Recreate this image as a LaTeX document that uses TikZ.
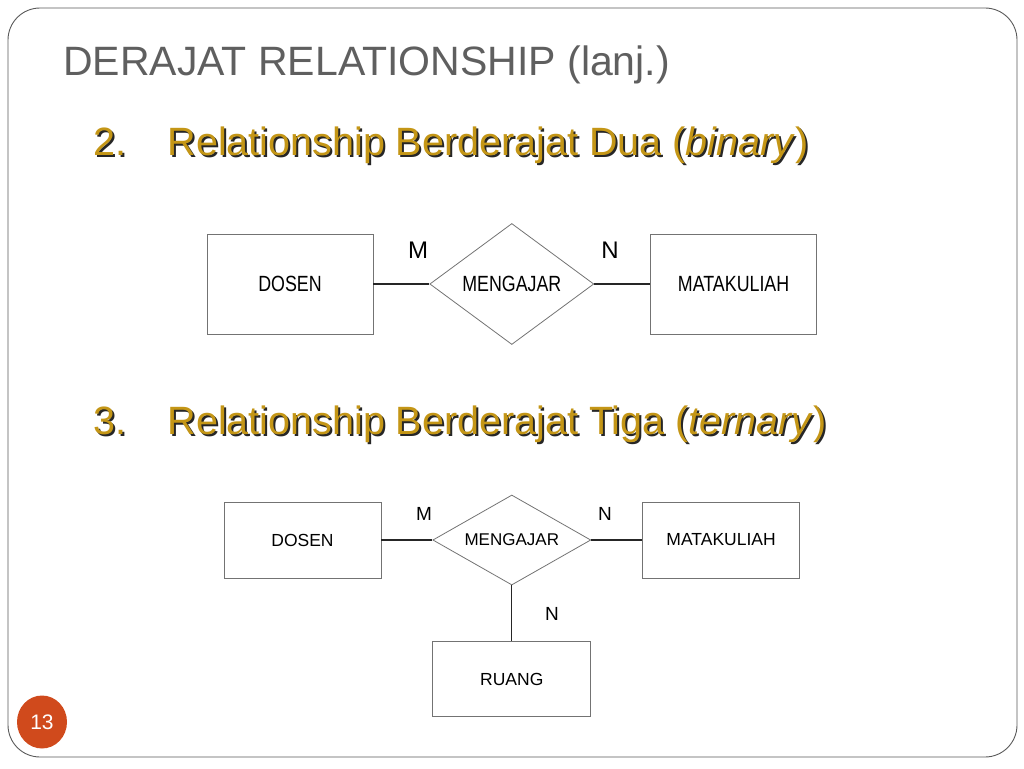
\documentclass[tikz,border=0pt]{standalone}
\usepackage{fontspec}
\setmainfont{Liberation Sans}
\newfontfamily\narrowfont[FakeStretch=0.81]{Liberation Sans}
\usetikzlibrary{positioning, shapes.geometric}
\usepackage{xcolor}
\definecolor{titlegray}{RGB}{95,95,95}
\definecolor{headgold}{RGB}{196,150,22}
\definecolor{pagered}{RGB}{208,74,28}

\begin{document}
\begin{tikzpicture}[x=1pt, y=-1pt,
frame/.style={draw=black!65, line width=0.9pt, rounded corners=32pt},
title/.style={anchor=base west, inner sep=0pt, text=titlegray, font=\fontsize{41}{45}\selectfont},
head/.style={anchor=base west, inner sep=0pt, text=headgold, font=\fontsize{39.5}{44}\selectfont},
headshadow/.style={head, text=black!85},
entity/.style={draw=black!55, 
rectangle, 
line width=0.8pt, 
minimum width=166pt, 
minimum height=100pt, 
font=\narrowfont\fontsize{22}{24}\selectfont},
relation/.style={draw=black!55, 
diamond, 
aspect=1.6, 
inner sep=0pt, 
line width=0.8pt, 
minimum width=164pt, 
minimum height=121pt, 
font=\narrowfont\fontsize{22}{24}\selectfont},
card/.style={font=\fontsize{24}{26}\selectfont, inner sep=0pt},
entitysmall/.style={entity, minimum width=157pt, minimum height=76pt, font=\fontsize{17.5}{19}\selectfont},
relationsmall/.style={relation, minimum width=158pt, minimum height=90pt, font=\fontsize{17}{19}\selectfont},
cardsmall/.style={card, font=\fontsize{19}{21}\selectfont},
link/.style={draw=black!85, line width=1.4pt},
linksmall/.style={draw=black!85, line width=1.1pt}
]
\useasboundingbox (0,0) rectangle (1024,768);

\draw[frame] (8,8) rectangle (1017,757);

\node[title] (title) at (63,75) {DERAJAT RELATIONSHIP (lanj.)};

% judul bagian
\node[headshadow] (headAshadow) at (95.5,157.5) {\hbox to 74pt{2.\hfil}Relationship Berderajat Dua (\textit{binary})};
\node[head] (headA) at (93.5,155.5) {\hbox to 74pt{2.\hfil}Relationship Berderajat Dua (\textit{binary})};
\node[headshadow] (headBshadow) at (95.5,436.5) {\hbox to 74pt{3.\hfil}Relationship Berderajat Tiga (\textit{ternary})};
\node[head] (headB) at (93.5,434.5) {\hbox to 74pt{3.\hfil}Relationship Berderajat Tiga (\textit{ternary})};

% binary
\node[entity] (dosenA) at (290,284) {DOSEN};
\node[relation, right=56pt of dosenA] (ajarA) {MENGAJAR};
\node[entity, right=56pt of ajarA] (matkulA) {MATAKULIAH};

\draw[link] (dosenA) -- (ajarA);
\draw[link] (ajarA) -- (matkulA);

\node[card] (mA) at (418,250) {M};
\node[card] (nA) at (610,250) {N};

% ternary
\node[entitysmall] (dosenB) at (302.5,540) {DOSEN};
\node[relationsmall, right=51pt of dosenB] (ajarB) {MENGAJAR};
\node[entitysmall, right=51pt of ajarB] (matkulB) {MATAKULIAH};
\node[entitysmall, minimum width=158pt, minimum height=75pt, below=56pt of ajarB] (ruangB) {RUANG};

\draw[linksmall] (dosenB) -- (ajarB);
\draw[linksmall] (ajarB) -- (matkulB);
\draw[linksmall] (ajarB) -- (ruangB);

\node[cardsmall] (mB) at (424,514) {M};
\node[cardsmall] (nB) at (605,514) {N};
\node[cardsmall] (nC) at (552,614) {N};

\node[ellipse, fill=pagered, minimum width=50pt, minimum height=53pt, inner sep=0pt, text=white, font=\fontsize{21}{22}\selectfont] (page) at (42,722) {13};

\end{tikzpicture}
\end{document}
